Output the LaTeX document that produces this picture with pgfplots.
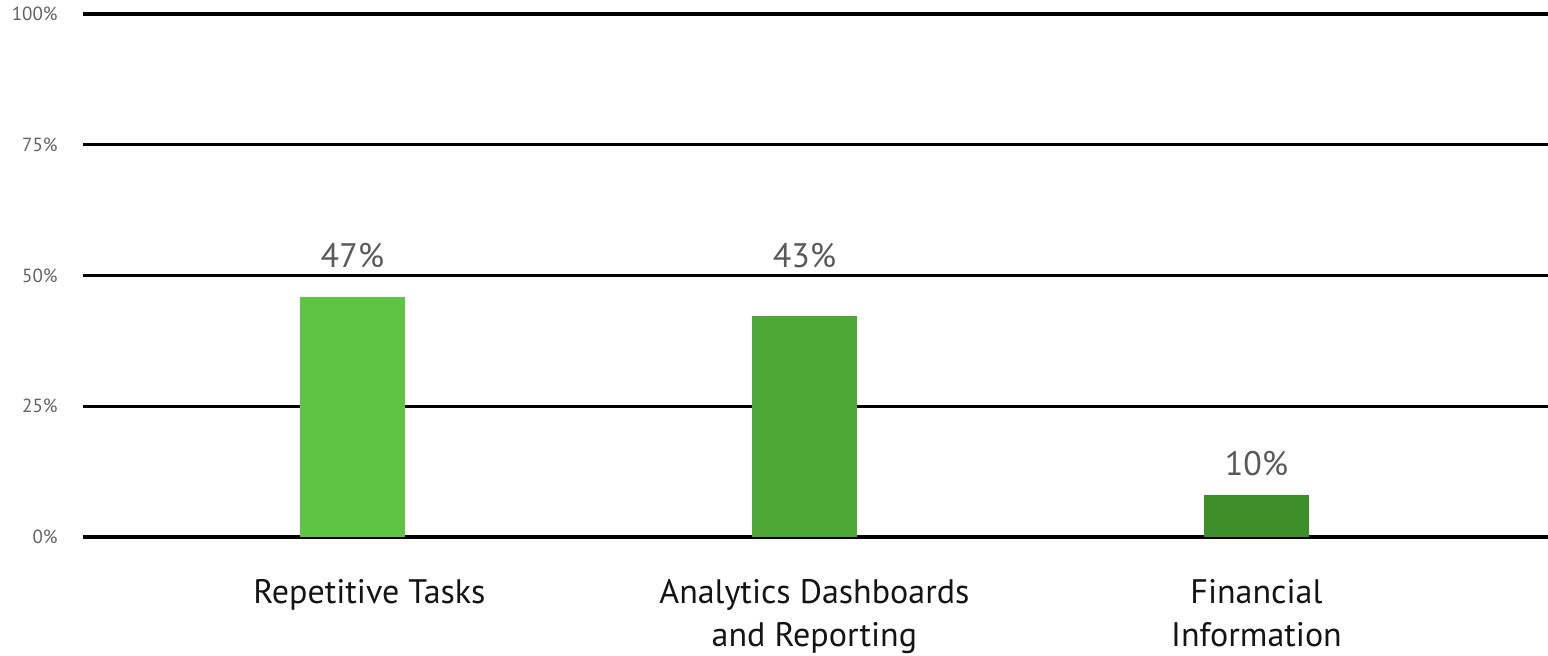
\documentclass[border=0pt]{standalone}
\usepackage{fontspec}
\setmainfont{PT Sans}
\usepackage{pgfplots}
\pgfplotsset{compat=1.18}
\definecolor{g1}{HTML}{5EC443}
\definecolor{g2}{HTML}{4EA836}
\definecolor{g3}{HTML}{3D8F2A}
\definecolor{vallab}{HTML}{595959}
\begin{document}
\begin{tikzpicture}
\begin{axis}[name=ax, scale only axis, width=732.5pt, height=261.5pt,
 xmin=-0.596, xmax=2.645, ymin=0, ymax=100,
 axis line style={draw=none},
 major tick length=0pt,
 ytick={0,25,50,75,100}, yticklabels={0\%,25\%,50\%,75\%,100\%},
 ymajorgrids, grid style={black, line width=1.6pt},
 xtick={0,1,2},
 xticklabels={\hspace*{17pt}Repetitive Tasks, {\hspace*{10pt}Analytics Dashboards\\\hspace*{10pt}and Reporting}, {Financial\\Information}},
 xticklabel style={align=center, anchor=north, font=\fontsize{17}{21.5}\selectfont, text=black!92, inner sep=0pt, yshift=-21pt},
 yticklabel style={font=\fontsize{9.5}{11}\selectfont, text=black!62, anchor=east, inner sep=0pt, xshift=-12.5pt},
 ybar, bar width=52.5pt, bar shift=0pt,
 clip=false,
]
\addplot[fill=g1, draw=none] coordinates {(0,45.9)};
\addplot[fill=g2, draw=none] coordinates {(1,42.3)};
\addplot[fill=g3, draw=none] coordinates {(2,8.0)};
\node[font=\fontsize{17}{20}\selectfont, text=vallab, inner sep=0pt] at (axis cs:0,53.9) {47\%};
\node[font=\fontsize{17}{20}\selectfont, text=vallab, inner sep=0pt] at (axis cs:1,53.9) {43\%};
\node[font=\fontsize{17}{20}\selectfont, text=vallab, inner sep=0pt] at (axis cs:2,14.1) {10\%};
\end{axis}
\pgfresetboundingbox
\path[use as bounding box] ([xshift=-41.5pt,yshift=-59.5pt]ax.south west) rectangle ([yshift=7pt]ax.north east);
\end{tikzpicture}
\end{document}
